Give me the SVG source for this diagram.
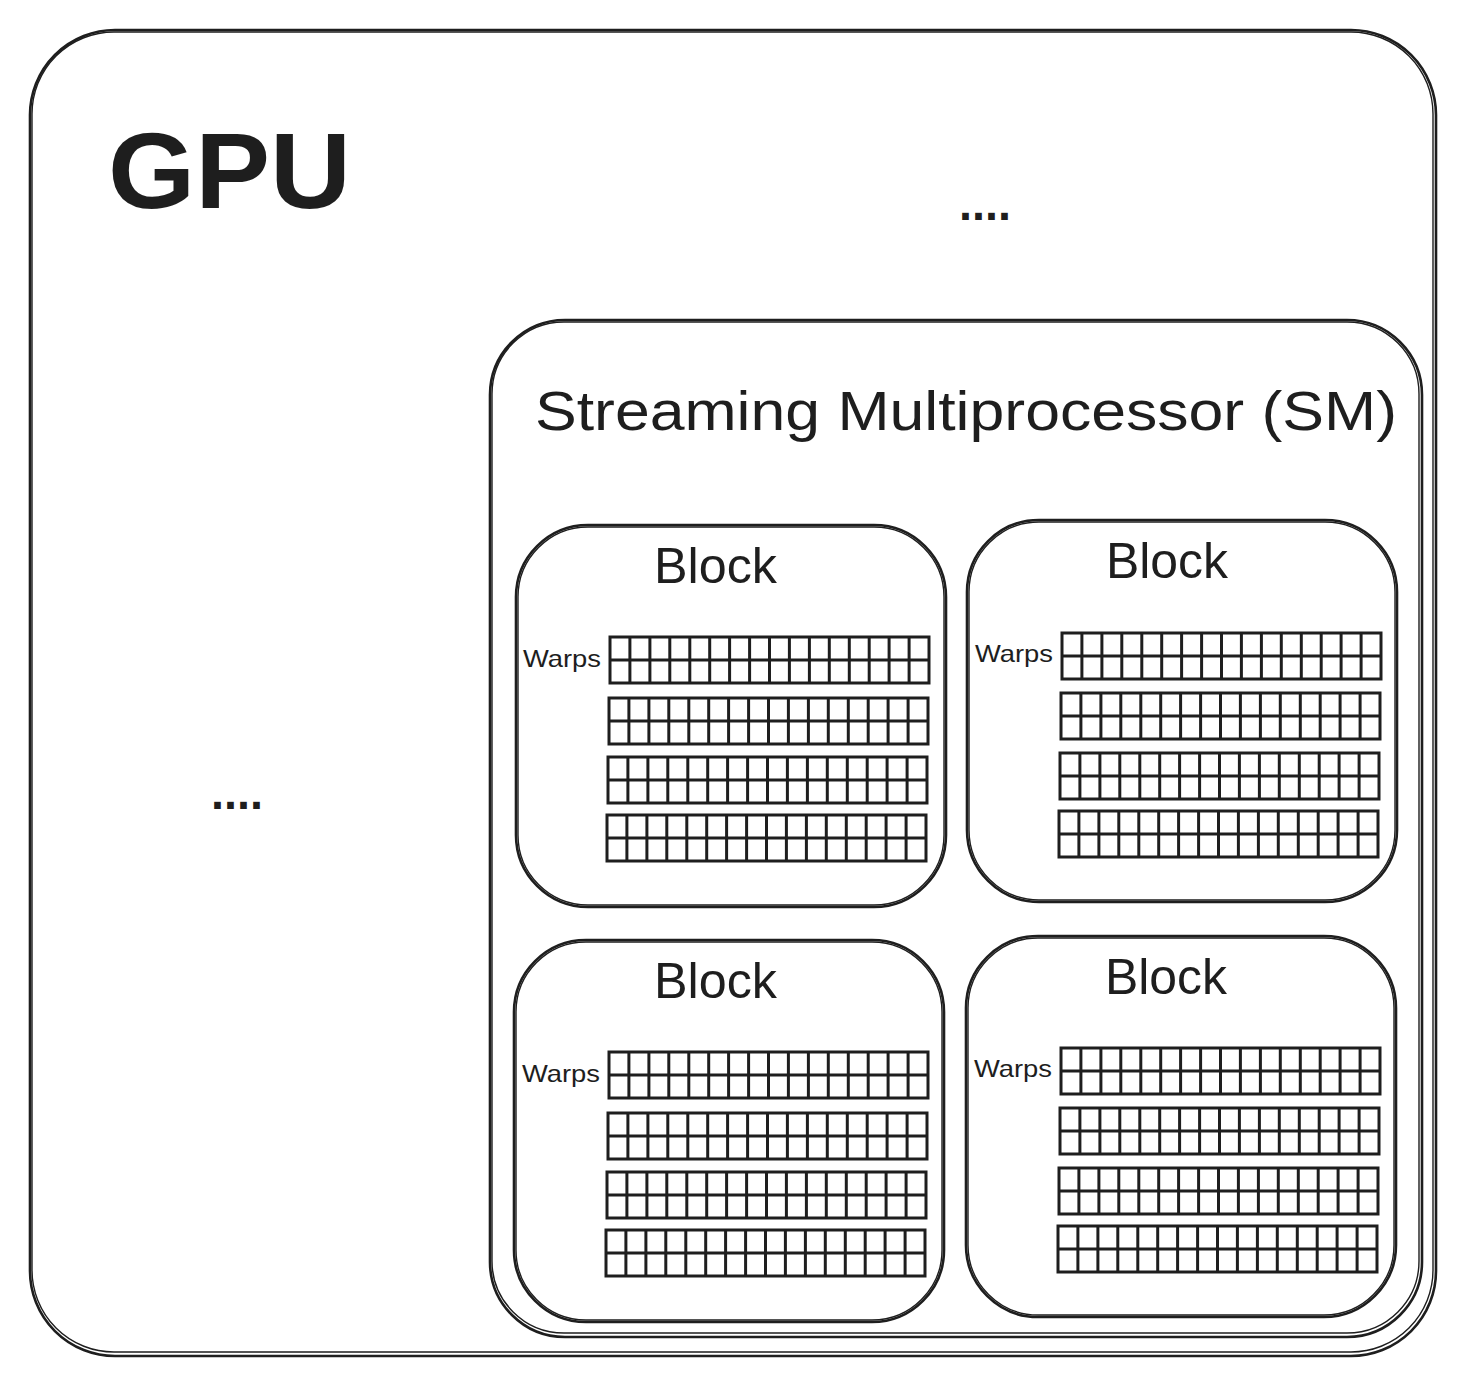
<svg xmlns="http://www.w3.org/2000/svg" xmlns:xlink="http://www.w3.org/1999/xlink" width="1465" height="1385" viewBox="0 0 1465 1385">
<style>
.box{fill:none;stroke:#1e1e1e;stroke-width:2.6}
.box2{fill:none;stroke:#1e1e1e;stroke-width:1.4}
.grid{fill:none;stroke:#1e1e1e;stroke-width:3}
.t{font-family:"Liberation Sans",Arial,sans-serif;fill:#1e1e1e}
.gpu{font-size:108px;font-weight:bold}
.sm{font-size:55px}
.blk{font-size:50px}
.wp{font-size:24px}
.dots{font-size:48px;font-weight:bold}
</style>
<defs>
<g id="warp">
<rect class="grid" x="0" y="0" width="319" height="46"/>
<path class="grid" d="M0 23H319M19.9 0V46M39.9 0V46M59.8 0V46M79.8 0V46M99.7 0V46M119.6 0V46M139.6 0V46M159.5 0V46M179.4 0V46M199.4 0V46M219.3 0V46M239.3 0V46M259.2 0V46M279.1 0V46M299.1 0V46"/>
</g>
</defs>
<rect width="1465" height="1385" fill="#ffffff"/>

<g id="gpu">
<rect class="box" x="30" y="30" width="1406" height="1326" rx="85" ry="85"/>
<rect class="box2" x="32" y="32" width="1401" height="1320" rx="82" ry="82"/>
<text class="t gpu" x="108" y="208" textLength="243" lengthAdjust="spacingAndGlyphs">GPU</text>
<text class="t dots" x="959" y="220" textLength="52" lengthAdjust="spacingAndGlyphs">....</text>
<text class="t dots" x="211" y="809" textLength="52" lengthAdjust="spacingAndGlyphs">....</text>
</g>

<g id="sm">
<rect class="box" x="490" y="320" width="932" height="1017" rx="75" ry="75"/>
<rect class="box2" x="492" y="322" width="927" height="1011" rx="72" ry="72"/>
<text class="t sm" x="535" y="430" textLength="862" lengthAdjust="spacingAndGlyphs">Streaming Multiprocessor (SM)</text>
</g>

<g id="block1">
<rect class="box" x="516" y="525" width="430" height="382" rx="72" ry="72"/>
<rect class="box2" x="518" y="527" width="426" height="378" rx="70" ry="70"/>
<text class="t blk" x="654" y="583" textLength="123" lengthAdjust="spacingAndGlyphs">Block</text>
<text class="t wp" x="523" y="667" textLength="78" lengthAdjust="spacingAndGlyphs">Warps</text>
<use xlink:href="#warp" x="610" y="637"/>
<use xlink:href="#warp" x="609" y="698"/>
<use xlink:href="#warp" x="608" y="757"/>
<use xlink:href="#warp" x="607" y="815"/>
</g>

<g id="block2">
<rect class="box" x="967" y="520" width="430" height="382" rx="72" ry="72"/>
<rect class="box2" x="969" y="522" width="426" height="378" rx="70" ry="70"/>
<text class="t blk" x="1106" y="578" textLength="122" lengthAdjust="spacingAndGlyphs">Block</text>
<text class="t wp" x="975" y="662" textLength="78" lengthAdjust="spacingAndGlyphs">Warps</text>
<use xlink:href="#warp" x="1062" y="633"/>
<use xlink:href="#warp" x="1061" y="693"/>
<use xlink:href="#warp" x="1060" y="753"/>
<use xlink:href="#warp" x="1059" y="811"/>
</g>

<g id="block3">
<rect class="box" x="514" y="940" width="430" height="382" rx="72" ry="72"/>
<rect class="box2" x="516" y="942" width="426" height="378" rx="70" ry="70"/>
<text class="t blk" x="654" y="998" textLength="123" lengthAdjust="spacingAndGlyphs">Block</text>
<text class="t wp" x="522" y="1082" textLength="78" lengthAdjust="spacingAndGlyphs">Warps</text>
<use xlink:href="#warp" x="609" y="1052"/>
<use xlink:href="#warp" x="608" y="1113"/>
<use xlink:href="#warp" x="607" y="1172"/>
<use xlink:href="#warp" x="606" y="1230"/>
</g>

<g id="block4">
<rect class="box" x="966" y="936" width="430" height="381" rx="72" ry="72"/>
<rect class="box2" x="968" y="938" width="426" height="377" rx="70" ry="70"/>
<text class="t blk" x="1105" y="994" textLength="122" lengthAdjust="spacingAndGlyphs">Block</text>
<text class="t wp" x="974" y="1077" textLength="78" lengthAdjust="spacingAndGlyphs">Warps</text>
<use xlink:href="#warp" x="1061" y="1048"/>
<use xlink:href="#warp" x="1060" y="1108"/>
<use xlink:href="#warp" x="1059" y="1168"/>
<use xlink:href="#warp" x="1058" y="1226"/>
</g>
</svg>
